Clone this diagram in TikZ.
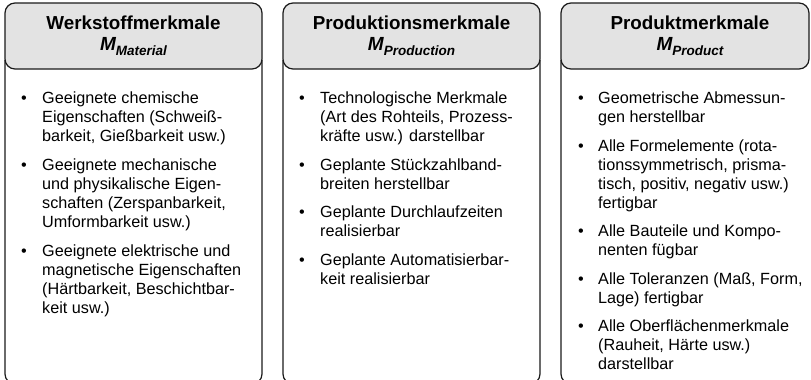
\documentclass[tikz,border=0pt]{standalone}
\usepackage{fontspec}
\setmainfont{Liberation Sans}
\definecolor{headgray}{HTML}{E3E3E3}
\definecolor{rule}{HTML}{1A1A1A}
\newcommand{\sub}[1]{\raisebox{-0.28em}{\fontsize{13.5}{13.5}\selectfont\bfseries\itshape #1}}
\newcommand{\lines}[1]{\begin{tabular}[t]{@{}l@{}}#1\end{tabular}}
\begin{document}
\begin{tikzpicture}[x=1pt,y=-1pt,
  frame/.style={draw=rule, line width=1.2pt, rounded corners=10pt},
  head/.style={draw=rule, line width=1.2pt, rounded corners=10pt, fill=headgray},
  title/.style={inner sep=0pt, anchor=base, font=\fontsize{18.8}{22}\selectfont\bfseries},
  sym/.style={inner sep=0pt, anchor=base, font=\fontsize{19}{22}\selectfont\bfseries\itshape},
  item/.style={inner sep=0pt, anchor=base west,
    font=\fontsize{16.2}{19.3}\selectfont},
  dot/.style={inner sep=0pt, anchor=base, font=\fontsize{16.2}{19.3}\selectfont},
]
\useasboundingbox (0,0) rectangle (811,380);

% ---- body frames (open at the top, hidden under the headers)
\draw[frame] (5,60) -- (5,384) -- (262,384) -- (262,60);
\draw[frame] (283,60) -- (283,384) -- (540,384) -- (540,60);
\draw[frame] (561,60) -- (561,384) -- (818,384) -- (818,60);

% ---- headers
\draw[head] (5,3) rectangle (262,69);
\draw[head] (283,3) rectangle (540,69);
\draw[head] (561,3) rectangle (809,69);

\node[title] (t1) at (133.5,29.5) {Werkstoffmerkmale};
\node[sym]   (s1) at (133.5,50) {M\sub{Material}};
\node[title] (t2) at (411.5,29.5) {Produktionsmerkmale};
\node[sym]   (s2) at (411.5,50) {M\sub{Production}};
\node[title] (t3) at (690,29.5) {Produktmerkmale};
\node[sym]   (s3) at (690,50) {M\sub{Product}};

% ---- column 1: material
\node[dot] (b11) at (24,103) {•};
\node[item] (i11) at (42,103) {\lines{Geeignete chemische\\Eigenschaften (Schweiß-\\barkeit, Gießbarkeit usw.)}};
\node[dot] (b12) at (24,170) {•};
\node[item] (i12) at (42,170) {\lines{Geeignete mechanische\\und physikalische Eigen-\\schaften (Zerspanbarkeit,\\Umformbarkeit usw.)}};
\node[dot] (b13) at (24,256) {•};
\node[item] (i13) at (42,256) {\lines{Geeignete elektrische und\\magnetische Eigenschaften\\(Härtbarkeit, Beschichtbar-\\keit usw.)}};

% ---- column 2: production
\node[dot] (b21) at (302,103) {•};
\node[item] (i21) at (320,103) {\lines{Technologische Merkmale\\(Art des Rohteils, Prozess-\\kräfte usw.) darstellbar}};
\node[dot] (b22) at (302,170) {•};
\node[item] (i22) at (320,170) {\lines{Geplante Stückzahlband-\\breiten herstellbar}};
\node[dot] (b23) at (302,217) {•};
\node[item] (i23) at (320,217) {\lines{Geplante Durchlaufzeiten\\realisierbar}};
\node[dot] (b24) at (302,265) {•};
\node[item] (i24) at (320,265) {\lines{Geplante Automatisierbar-\\keit realisierbar}};

% ---- column 3: product
\node[dot] (b31) at (581,103) {•};
\node[item] (i31) at (598,103) {\lines{Geometrische Abmessun-\\gen herstellbar}};
\node[dot] (b32) at (581,151) {•};
\node[item] (i32) at (598,151) {\lines{Alle Formelemente (rota-\\tionssymmetrisch, prisma-\\tisch, positiv, negativ usw.)\\fertigbar}};
\node[dot] (b33) at (581,236) {•};
\node[item] (i33) at (598,236) {\lines{Alle Bauteile und Kompo-\\nenten fügbar}};
\node[dot] (b34) at (581,284) {•};
\node[item] (i34) at (598,284) {\lines{Alle Toleranzen (Maß, Form,\\Lage) fertigbar}};
\node[dot] (b35) at (581,331) {•};
\node[item] (i35) at (598,331) {\lines{Alle Oberflächenmerkmale\\(Rauheit, Härte usw.)\\darstellbar}};
\end{tikzpicture}
\end{document}
